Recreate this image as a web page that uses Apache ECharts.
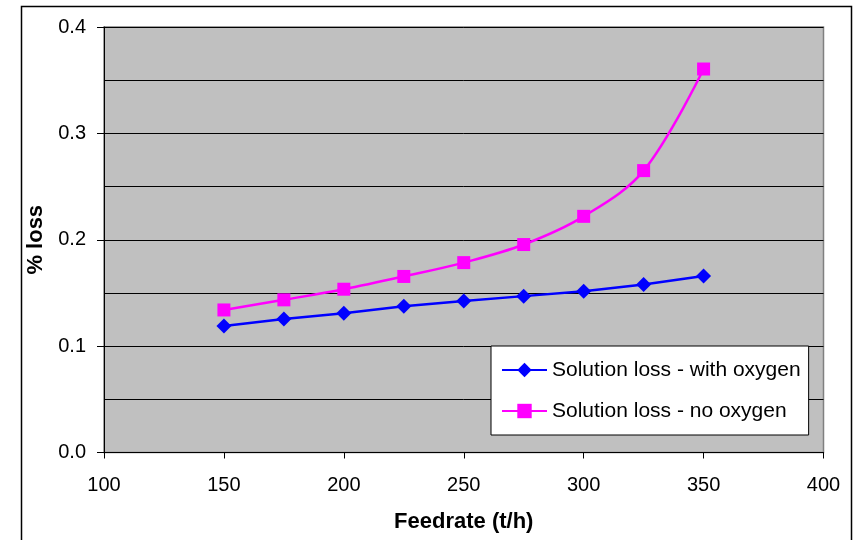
<!DOCTYPE html>
<html>
<head>
<meta charset="utf-8">
<script src="https://cdn.jsdelivr.net/npm/echarts@6/dist/echarts.min.js"></script>
<style>html,body{margin:0;padding:0;background:#fff;}#c{width:859px;height:540px;}</style>
</head>
<body>
<div id="c"></div>
<script>
var feedrate = [150, 175, 200, 225, 250, 275, 300, 325, 350];
var withOxygen = [0.119, 0.1255, 0.131, 0.1375, 0.1425, 0.147, 0.1515, 0.158, 0.166];
var noOxygen = [0.134, 0.1435, 0.1535, 0.1655, 0.1785, 0.1955, 0.222, 0.265, 0.3605];
var seriesNames = ['Solution loss - with oxygen', 'Solution loss - no oxygen'];
var xTitle = 'Feedrate (t/h)';
var yTitle = '% loss';

function pairs(xs, ys) { return xs.map(function (x, i) { return [x, ys[i]]; }); }

var chart = echarts.init(document.getElementById('c'), null, { renderer: 'canvas' });
var font = '"Liberation Sans", Arial, sans-serif';
chart.setOption({
  animation: false,
  backgroundColor: '#ffffff',
  textStyle: { fontFamily: font },
  graphic: [{
    type: 'rect', left: 19, top: 4, z: -1,
    shape: { x: 0, y: 0, width: 830, height: 560 },
    style: { fill: 'none', stroke: '#000', lineWidth: 1.5 }
  }],
  grid: {
    left: 104, top: 27, right: 35.5, bottom: 87.5,
    outerBoundsMode: 'none', containLabel: false,
    show: true, backgroundColor: '#c0c0c0', borderColor: '#808080', borderWidth: 1.5
  },
  legend: {
    orient: 'vertical', left: 491, top: 346,
    padding: [12, 8, 12, 10],
    backgroundColor: '#ffffff', borderColor: '#000', borderWidth: 1,
    itemWidth: 45, itemHeight: 18, itemGap: 17,
    textStyle: { fontFamily: font, fontSize: 21, color: '#000', lineHeight: 24 },
    data: seriesNames
  },
  xAxis: {
    type: 'value', min: 100, max: 400, interval: 50,
    name: xTitle, nameLocation: 'middle', nameGap: 58,
    nameTextStyle: { fontFamily: font, fontSize: 22, fontWeight: 'bold', color: '#000' },
    axisLine: { show: true, onZero: false, lineStyle: { color: '#000', width: 1 } },
    axisTick: { show: true, length: 6, lineStyle: { color: '#000' } },
    axisLabel: { fontFamily: font, fontSize: 20, color: '#000', margin: 23 },
    splitLine: { show: false }
  },
  yAxis: {
    type: 'value', min: 0, max: 0.4, interval: 0.1,
    name: yTitle, nameLocation: 'middle', nameGap: 54, nameRotate: 90,
    nameTextStyle: { fontFamily: font, fontSize: 22, fontWeight: 'bold', color: '#000' },
    axisLine: { show: true, lineStyle: { color: '#000', width: 1 } },
    axisTick: { show: true, length: 7, lineStyle: { color: '#000' } },
    axisLabel: { fontFamily: font, fontSize: 20, color: '#000', margin: 18,
      formatter: function (v) { return v.toFixed(1); } },
    splitLine: { show: true, lineStyle: { color: '#000', width: 1 } },
    minorTick: { show: false, splitNumber: 2 },
    minorSplitLine: { show: true, lineStyle: { color: '#000', width: 1 } }
  },
  series: [{
    name: seriesNames[0], type: 'line', data: pairs(feedrate, withOxygen),
    symbol: 'diamond', symbolSize: 15, smooth: false,
    lineStyle: { color: '#0000ff', width: 2.5 },
    itemStyle: { color: '#0000ff' }
  }, {
    name: seriesNames[1], type: 'line', data: pairs(feedrate, noOxygen),
    symbol: 'rect', symbolSize: 13, smooth: 0.35,
    lineStyle: { color: '#ff00ff', width: 2.5 },
    itemStyle: { color: '#ff00ff' }
  }]
});
</script>
</body>
</html>
